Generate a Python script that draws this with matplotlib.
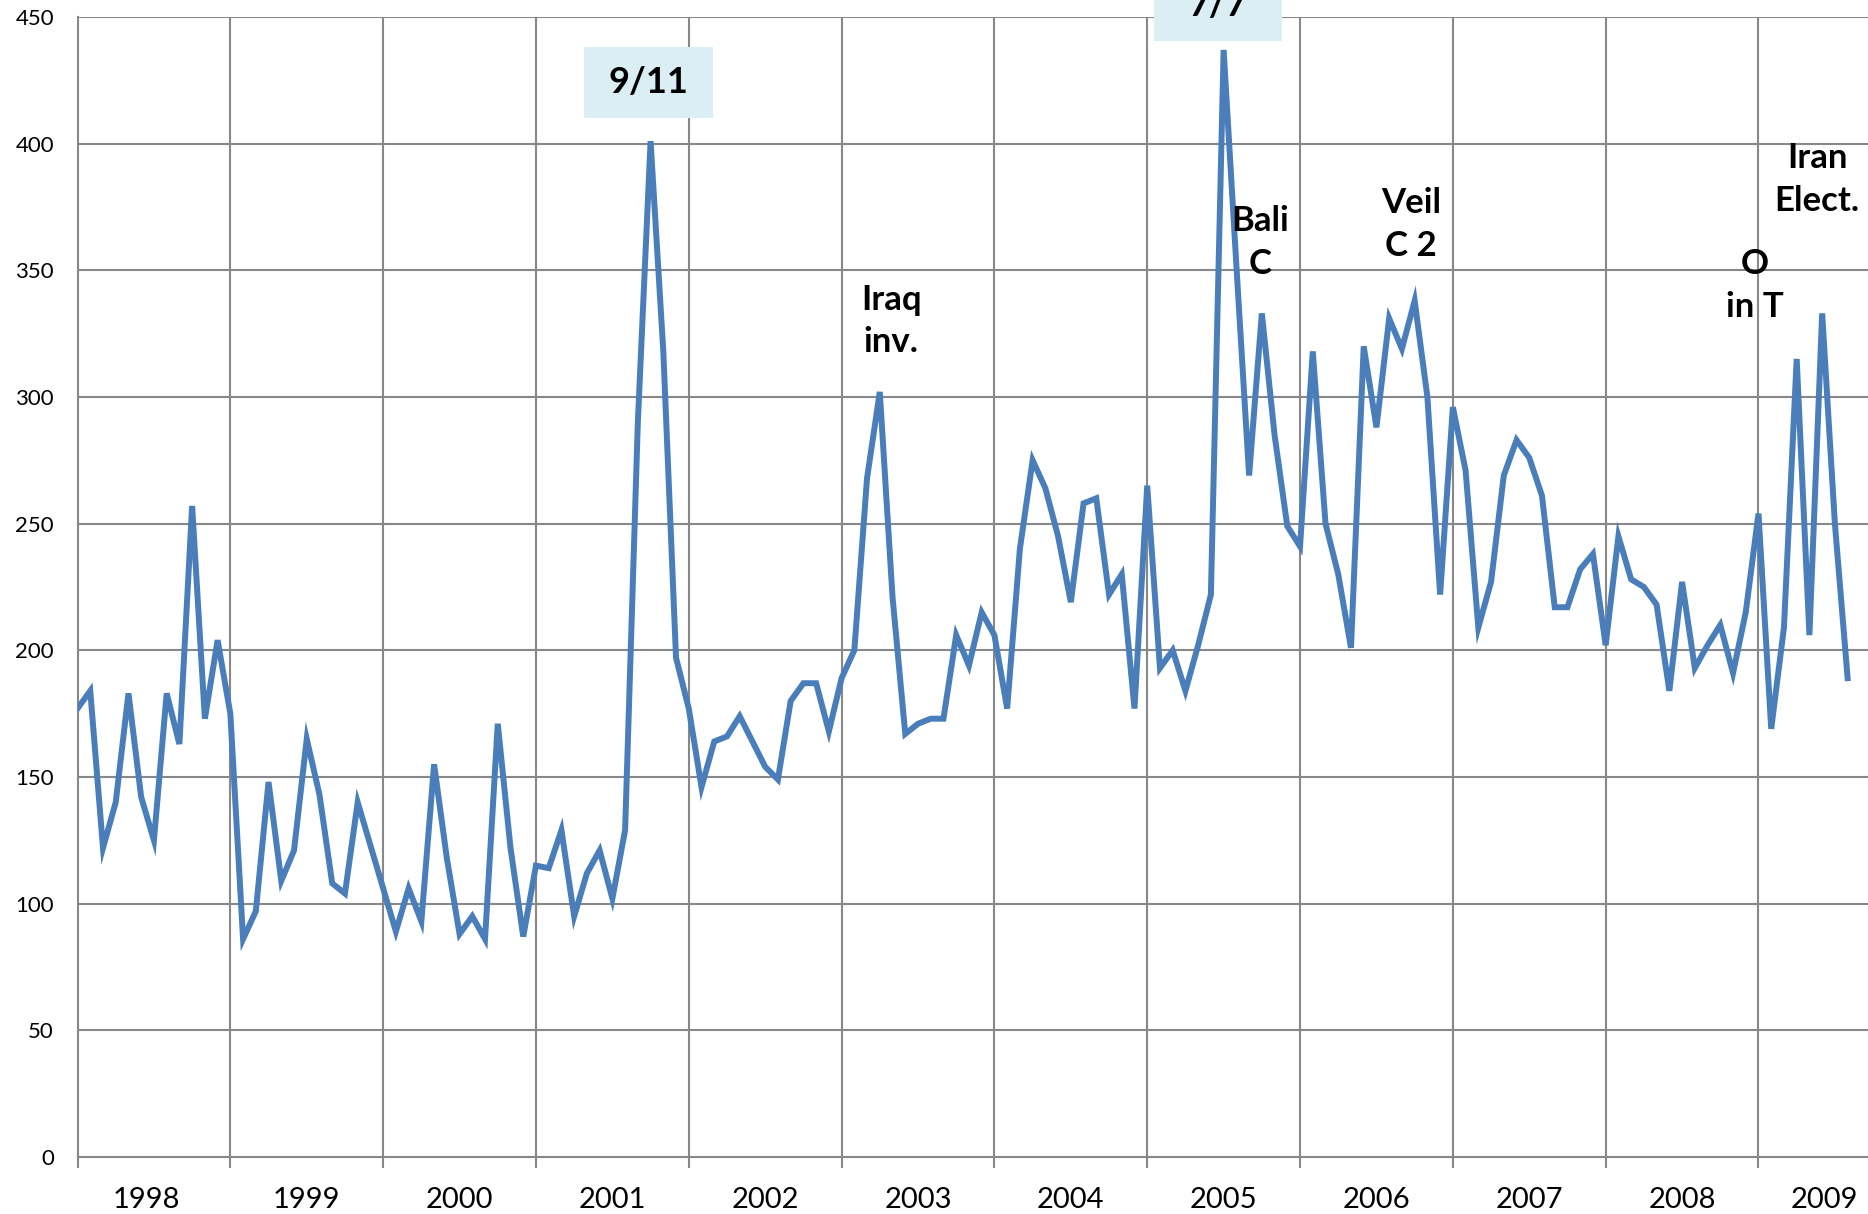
import numpy as np
import matplotlib.pyplot as plt
from matplotlib.patches import Rectangle

plt.rcParams['font.family'] = ['Lato', 'DejaVu Sans']

# monthly counts, Jan 1998 .. Aug 2009
counts = [
    177, 184, 122, 140, 183, 142, 125, 183, 163, 257, 173, 204,   # 1998
    175, 86, 97, 148, 109, 121, 165, 143, 108, 104, 140, 123,     # 1999
    106, 89, 106, 93, 155, 118, 88, 95, 86, 171, 122, 87,         # 2000
    115, 114, 129, 95, 112, 121, 102, 129, 290, 401, 318, 197,    # 2001
    177, 146, 164, 166, 174, 164, 154, 149, 180, 187, 187, 168,   # 2002
    189, 200, 268, 302, 221, 167, 171, 173, 173, 206, 194, 215,   # 2003
    206, 177, 240, 275, 264, 245, 219, 258, 260, 222, 230, 177,   # 2004
    265, 193, 200, 184, 202, 222, 437, 352, 269, 333, 285, 249,   # 2005
    241, 318, 250, 230, 201, 320, 288, 331, 319, 338, 300, 222,   # 2006
    296, 271, 209, 227, 269, 283, 276, 261, 217, 217, 232, 238,   # 2007
    202, 245, 228, 225, 218, 184, 227, 193, 202, 210, 191, 215,   # 2008
    254, 169, 209, 315, 206, 333, 250, 189,                       # 2009
]
years = ['1998', '1999', '2000', '2001', '2002', '2003', '2004', '2005',
         '2006', '2007', '2008', '2009']

# event labels: text, month index, value where text is centred
events = ['Iraq\ninv.', 'Bali\nC', 'Veil\nC 2', 'O\nin T', 'Iran\nElect.']
event_x = [63.9, 92.9, 104.7, 131.7, 136.6]
event_y = [330, 361, 368, 344, 386]

# boxed labels: text and box extent (x0, x1, y0, y1) in data units
boxed = ['9/11', '7/7']
boxes = [(39.8, 49.9, 410, 438), (84.5, 94.6, 440.5, 468.5)]

grid_c = '#888888'
line_c = '#4A7EBB'
box_c = '#DBEEF3'

fig = plt.figure(figsize=(18.68, 12.14), dpi=100)
ax = fig.add_axes([0.0415, 0.047, 0.9585, 0.939])

x = np.arange(len(counts))
ax.plot(x, counts, color=line_c, lw=4.3, solid_joinstyle='miter', zorder=3)

n_years = len(years)
ax.set_xlim(0, 140.6)
ax.set_ylim(0, 450)

# year boundaries
bounds = [12 * k for k in range(n_years)]
for b in bounds[1:]:
    ax.axvline(b, color=grid_c, lw=1.5, zorder=1)
ax.set_yticks(np.arange(0, 451, 50))
for yv in np.arange(50, 451, 50):
    ax.axhline(yv, color=grid_c, lw=1.5, zorder=1)

for s in ['top', 'right']:
    ax.spines[s].set_visible(False)
for s in ['left', 'bottom']:
    ax.spines[s].set_color(grid_c)
    ax.spines[s].set_linewidth(1.5)

ax.set_xticks(bounds)
ax.set_xticklabels([])
ax.tick_params(axis='x', length=8, width=1.5, color=grid_c, direction='out')
ax.tick_params(axis='y', length=0, pad=17, labelsize=16)

centers = [12 * k + 6 for k in range(n_years)]
centers[0] = 5.4
centers[-1] = 137.2
ax.set_xticks(centers, minor=True)
ax.set_xticklabels(years, minor=True)
ax.tick_params(axis='x', which='minor', length=0, pad=22, labelsize=21)

for t, ex, ey in zip(events, event_x, event_y):
    ax.text(ex, ey, t, ha='center', va='center', fontsize=25,
            fontweight='bold', linespacing=1.42, zorder=4, clip_on=False)

for t, (x0, x1, y0, y1) in zip(boxed, boxes):
    ax.add_patch(Rectangle((x0, y0), x1 - x0, y1 - y0, fc=box_c, ec='none',
                           zorder=4, clip_on=False))
    ax.text((x0 + x1) / 2, (y0 + y1) / 2, t, ha='center', va='center',
            fontsize=26, fontweight='bold', zorder=5, clip_on=False)

fig.savefig('out.png', dpi=100)
